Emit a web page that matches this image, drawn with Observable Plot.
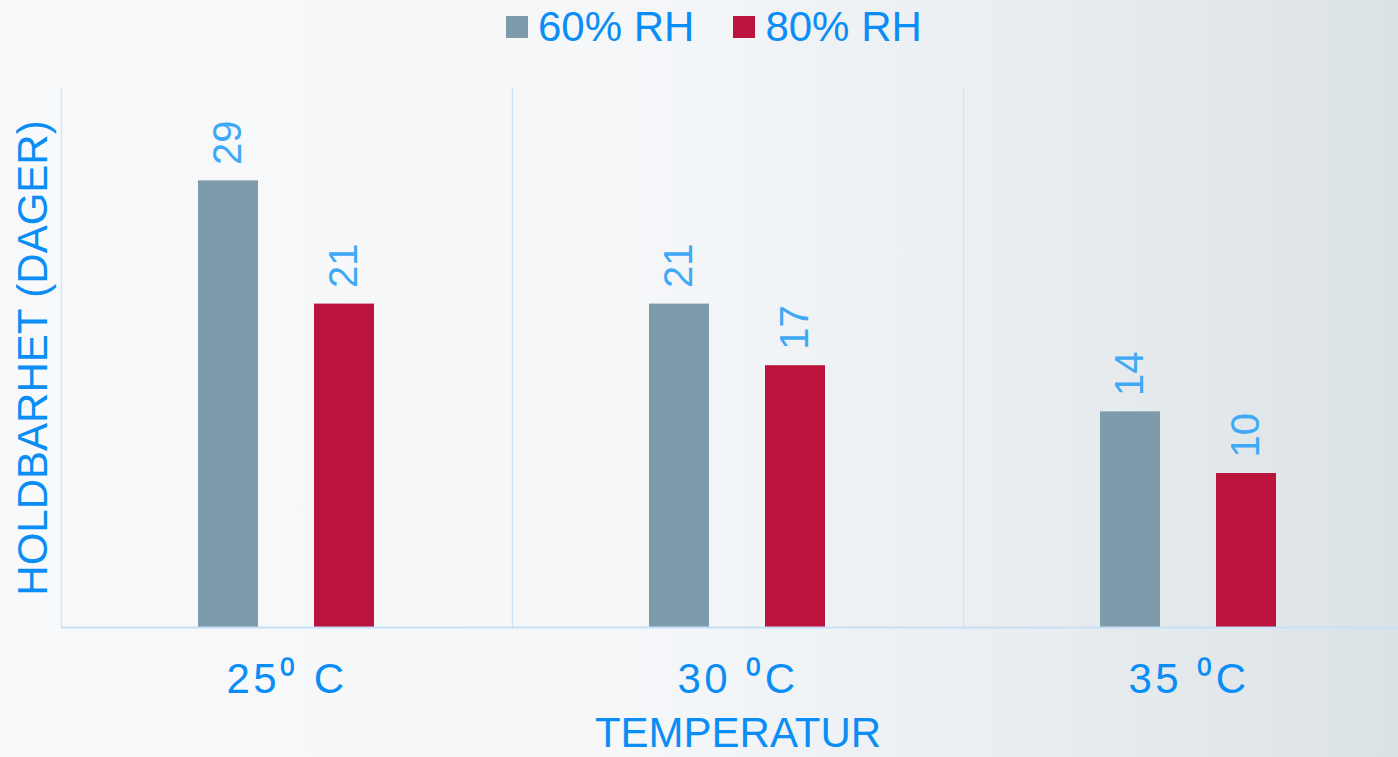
<!DOCTYPE html>
<html>
<head>
<meta charset="utf-8">
<script src="https://cdn.jsdelivr.net/npm/d3@7"></script>
<script src="https://cdn.jsdelivr.net/npm/@observablehq/plot@0.6"></script>
<style>
  html, body { margin: 0; padding: 0; width: 1398px; height: 757px; overflow: hidden; }
  body {
    background: linear-gradient(90deg, #f8f9fb 0%, #f5f7f9 45%, #e9edf0 75%, #dbe2e6 100%);
    font-family: "Liberation Sans", Arial, sans-serif;
  }
  #legend { height: 60px; display: flex; align-items: center; padding-left: 506px; padding-bottom: 6px; box-sizing: border-box; }
  .item { display: flex; align-items: center; margin-right: 39px; }
  .swatch { width: 22px; height: 22px; margin-right: 10px; }
  .lab { font-size: 42px; color: #0a8ef5; line-height: 1; }
  #chart { width: 1414px; }
  #chart svg { display: block; background: transparent !important; max-width: none !important; width: 1414px !important; height: 697px !important; }
  g[aria-label="fx-axis tick label"] text { letter-spacing: 3.5px; }
</style>
</head>
<body>
<div id="legend"></div>
<div id="chart"></div>
<script>
const temperatures = ["25\u2070 C", "30 \u2070C", "35 \u2070C"];
const series = ["60% RH", "80% RH"];
const rh60 = [29, 21, 14];
const rh80 = [21, 17, 10];
const seriesColors = ["#7d9bab", "#bb133d"];
const yLabel = "HOLDBARHET (DAGER)";
const xLabel = "TEMPERATUR";

const values = [rh60, rh80];
const data = [];
temperatures.forEach((t, i) => series.forEach((s, j) => data.push({temp: t, rh: s, value: values[j][i]})));

const legend = document.getElementById("legend");
series.forEach((s, j) => {
  const it = document.createElement("div");
  it.className = "item";
  it.innerHTML = `<span class="swatch" style="background:${seriesColors[j]}"></span><span class="lab">${s}</span>`;
  legend.appendChild(it);
});

const axisColor = "#0a8ef5";
const chart = Plot.plot({
  width: 1414,
  height: 697,
  marginTop: 28,
  marginBottom: 130,
  marginLeft: 61,
  marginRight: 0,
  style: {fontFamily: "Liberation Sans, Arial, sans-serif", background: "transparent"},
  fx: {domain: temperatures, padding: 0, label: null},
  x: {domain: series, paddingInner: 0.479, paddingOuter: 1.167, align: 0.5, axis: null},
  y: {domain: [0, 35], axis: null},
  color: {domain: series, range: seriesColors},
  marks: [
    Plot.frame({anchor: "left", stroke: "#cfe4f7", strokeWidth: 1.5}),
    Plot.barY(data, {fx: "temp", x: "rh", y: "value", fill: "rh"}),
    Plot.ruleY([0], {stroke: "#c6e0f7", strokeWidth: 2}),
    Plot.text(data, {fx: "temp", x: "rh", y: "value", text: d => String(d.value), rotate: -90, textAnchor: "start", dy: -16, fontSize: 40, fill: "#3fa9f5"}),
    Plot.axisFx({anchor: "bottom", tickSize: 0, tickPadding: 36, fontSize: 42, fill: axisColor, label: null}),
    Plot.text([yLabel], {fx: () => temperatures[0], frameAnchor: "left", textAnchor: "middle", lineAnchor: "middle", rotate: -90, dx: -28, fontSize: 42, fill: axisColor}),
    Plot.text([xLabel], {fx: () => temperatures[1], frameAnchor: "bottom", lineAnchor: "middle", dy: 106, fontSize: 42, fill: axisColor})
  ]
});
document.getElementById("chart").appendChild(chart);
</script>
</body>
</html>
